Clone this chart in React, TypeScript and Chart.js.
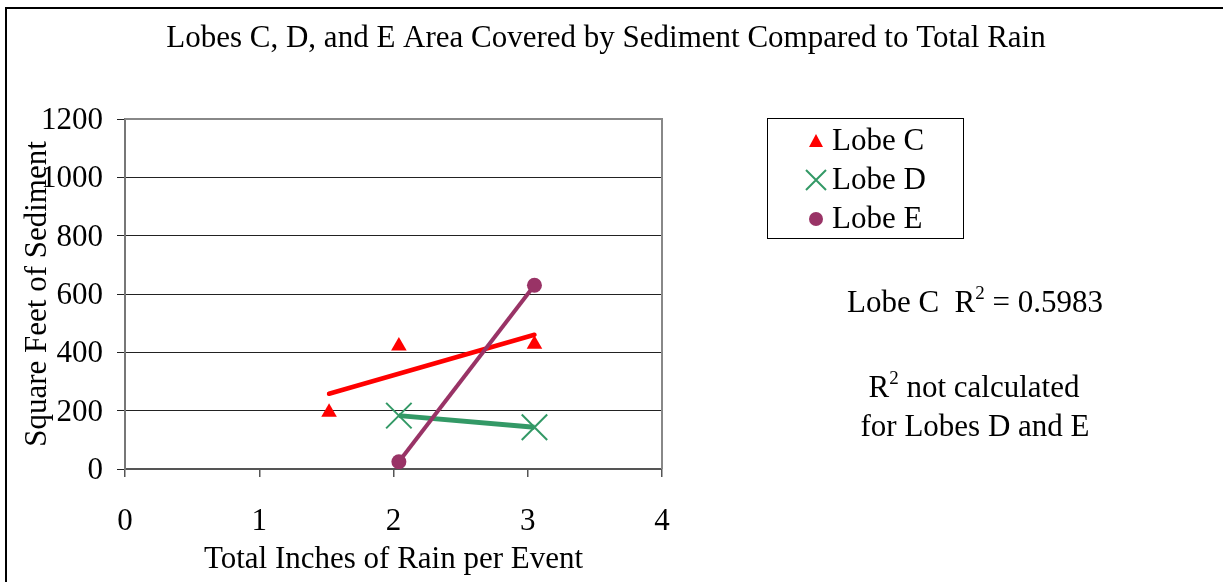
import React, { useEffect, useRef } from "react";
import { Chart, registerables } from "chart.js";

Chart.register(...registerables);

// Rain per event (inches) and sediment coverage (sq ft) for each lobe
const lobeCRain = [1.52, 2.04, 3.05];
const lobeCArea = [195, 422, 428];
const lobeDRain = [2.04, 3.05];
const lobeDArea = [183, 143];
const lobeERain = [2.04, 3.05];
const lobeEArea = [25, 630];

const xTicks = [0, 1, 2, 3, 4];
const yTicks = [0, 200, 400, 600, 800, 1000, 1200];

const seriesNames = ["Lobe C", "Lobe D", "Lobe E"];
const chartTitle = "Lobes C, D, and E Area Covered by Sediment Compared to Total Rain";
const xTitle = "Total Inches of Rain per Event";
const yTitle = "Square Feet of Sediment";
const rSquaredLabel = "0.5983";

const RED = "#FF0000";
const GREEN = "#339966";
const PURPLE = "#993366";
const SERIF = "'Liberation Serif', 'Times New Roman', serif";
const FONT_SIZE = 31;

// Least-squares line through Lobe C, drawn across its rain range
function linearFit(xs: number[], ys: number[]) {
  const n = xs.length;
  const mx = xs.reduce((a, b) => a + b, 0) / n;
  const my = ys.reduce((a, b) => a + b, 0) / n;
  let sxy = 0;
  let sxx = 0;
  for (let i = 0; i < n; i++) {
    sxy += (xs[i] - mx) * (ys[i] - my);
    sxx += (xs[i] - mx) * (xs[i] - mx);
  }
  const slope = sxy / sxx;
  const intercept = my - slope * mx;
  const x0 = Math.min(...xs);
  const x1 = Math.max(...xs);
  return [
    { x: x0, y: intercept + slope * x0 },
    { x: x1, y: intercept + slope * x1 },
  ];
}

const toPoints = (xs: number[], ys: number[]) => xs.map((x, i) => ({ x, y: ys[i] }));

function drawMarker(ctx: CanvasRenderingContext2D, kind: string, x: number, y: number) {
  ctx.save();
  if (kind === "triangle") {
    ctx.fillStyle = RED;
    ctx.beginPath();
    ctx.moveTo(x, y - 7);
    ctx.lineTo(x + 7, y + 6);
    ctx.lineTo(x - 7, y + 6);
    ctx.closePath();
    ctx.fill();
  } else if (kind === "cross") {
    ctx.strokeStyle = GREEN;
    ctx.lineWidth = 2;
    ctx.beginPath();
    ctx.moveTo(x - 10, y - 10);
    ctx.lineTo(x + 10, y + 10);
    ctx.moveTo(x + 10, y - 10);
    ctx.lineTo(x - 10, y + 10);
    ctx.stroke();
  } else {
    ctx.fillStyle = PURPLE;
    ctx.beginPath();
    ctx.arc(x, y, 7, 0, Math.PI * 2);
    ctx.fill();
  }
  ctx.restore();
}

function drawSup(ctx: CanvasRenderingContext2D, parts: [string, boolean][], cx: number, y: number, size: number) {
  const supSize = Math.round(size * 0.62);
  let total = 0;
  for (const [t, sup] of parts) {
    ctx.font = `${sup ? supSize : size}px ${SERIF}`;
    total += ctx.measureText(t).width;
  }
  let x = cx - total / 2;
  ctx.textAlign = "left";
  ctx.textBaseline = "alphabetic";
  for (const [t, sup] of parts) {
    ctx.font = `${sup ? supSize : size}px ${SERIF}`;
    ctx.fillText(t, x, sup ? y - size * 0.42 : y);
    x += ctx.measureText(t).width;
  }
}

const decorations = {
  id: "decorations",
  beforeDatasetsDraw(chart: any) {
    const { ctx, chartArea } = chart;
    ctx.save();
    // plot frame (top and right edges)
    ctx.strokeStyle = "#888888";
    ctx.lineWidth = 2;
    ctx.beginPath();
    ctx.moveTo(chartArea.left, chartArea.top);
    ctx.lineTo(chartArea.right, chartArea.top);
    ctx.lineTo(chartArea.right, chartArea.bottom);
    ctx.stroke();
    ctx.restore();
  },
  afterDraw(chart: any) {
    const { ctx } = chart;
    ctx.save();
    // outer chart border
    ctx.strokeStyle = "#000";
    ctx.lineWidth = 2;
    ctx.beginPath();
    ctx.moveTo(6, 582);
    ctx.lineTo(6, 8);
    ctx.lineTo(1223, 8);
    ctx.stroke();

    // title
    ctx.fillStyle = "#000";
    ctx.font = `${FONT_SIZE}px ${SERIF}`;
    ctx.textAlign = "center";
    ctx.textBaseline = "middle";
    ctx.fillText(chartTitle, 606, 39);

    // legend
    ctx.strokeStyle = "#000";
    ctx.lineWidth = 1;
    ctx.strokeRect(767.5, 118.5, 196, 120);
    const kinds = ["triangle", "cross", "circle"];
    ctx.font = `${FONT_SIZE}px ${SERIF}`;
    ctx.textAlign = "left";
    ctx.textBaseline = "middle";
    seriesNames.forEach((name, i) => {
      const y = 141 + i * 39;
      drawMarker(ctx, kinds[i], 816, y);
      ctx.fillStyle = "#000";
      ctx.fillText(name, 832, y + 1);
    });

    // R-squared notes
    ctx.fillStyle = "#000";
    drawSup(ctx, [["Lobe C  R", false], ["2", true], [" = " + rSquaredLabel, false]], 975, 312, FONT_SIZE);
    drawSup(ctx, [["R", false], ["2", true], [" not calculated", false]], 974, 397, FONT_SIZE);
    ctx.font = `${FONT_SIZE}px ${SERIF}`;
    ctx.textAlign = "center";
    ctx.textBaseline = "alphabetic";
    ctx.fillText("for Lobes D and E", 975, 436);
    ctx.restore();
  },
};

export default function App() {
  const canvasRef = useRef<HTMLCanvasElement | null>(null);

  useEffect(() => {
    document.body.style.margin = "0";
    const canvas = canvasRef.current;
    if (!canvas) return;
    const chart = new Chart(canvas, {
      type: "scatter",
      data: {
        datasets: [
          {
            label: seriesNames[0],
            data: toPoints(lobeCRain, lobeCArea),
            pointStyle: "triangle",
            pointRadius: 9,
            pointBackgroundColor: RED,
            pointBorderColor: RED,
            pointBorderWidth: 0,
            showLine: false,
            order: 0,
          },
          {
            label: seriesNames[0] + " trend",
            data: linearFit(lobeCRain, lobeCArea),
            showLine: true,
            borderColor: RED,
            borderWidth: 4.5,
            borderCapStyle: "round",
            pointRadius: 0,
            order: 5,
          },
          {
            label: seriesNames[1],
            data: toPoints(lobeDRain, lobeDArea),
            showLine: true,
            borderColor: GREEN,
            borderWidth: 5,
            pointStyle: "crossRot",
            pointRadius: 18,
            pointBorderColor: GREEN,
            pointBorderWidth: 2,
            pointBackgroundColor: GREEN,
            order: 4,
          },
          {
            label: seriesNames[2],
            data: toPoints(lobeERain, lobeEArea),
            showLine: true,
            borderColor: PURPLE,
            borderWidth: 4,
            pointStyle: "circle",
            pointRadius: 7.5,
            pointBorderWidth: 0,
            pointBackgroundColor: PURPLE,
            pointBorderColor: PURPLE,
            order: 3,
          },
        ],
      },
      options: {
        animation: false,
        responsive: true,
        maintainAspectRatio: false,
        layout: { padding: { top: 119, right: 561, left: 0, bottom: 0 } },
        plugins: {
          legend: { display: false },
          title: { display: false },
          tooltip: { enabled: false },
        },
        scales: {
          x: {
            type: "linear",
            min: xTicks[0],
            max: xTicks[xTicks.length - 1],
            afterBuildTicks: (s: any) => {
              s.ticks = xTicks.map((v) => ({ value: v }));
            },
            afterFit: (s: any) => {
              s.height = 113;
            },
            grid: {
              drawOnChartArea: false,
              drawTicks: true,
              tickLength: 8,
              color: "#555",
              lineWidth: 1.5,
            },
            border: { color: "#555", width: 2 },
            ticks: {
              color: "#000",
              padding: 26,
              font: { family: SERIF, size: FONT_SIZE },
              callback: (v: any) => String(v),
            },
            title: {
              display: true,
              text: xTitle,
              color: "#000",
              font: { family: SERIF, size: FONT_SIZE },
              padding: { top: 0, bottom: 4 },
            },
          },
          y: {
            type: "linear",
            min: yTicks[0],
            max: yTicks[yTicks.length - 1],
            afterBuildTicks: (s: any) => {
              s.ticks = yTicks.map((v) => ({ value: v }));
            },
            afterFit: (s: any) => {
              s.width = 125;
            },
            grid: {
              drawOnChartArea: true,
              drawTicks: true,
              tickLength: 8,
              color: "#222",
              lineWidth: 1,
            },
            border: { color: "#777", width: 2 },
            ticks: {
              color: "#000",
              padding: 14,
              labelOffset: 2,
              font: { family: SERIF, size: FONT_SIZE },
              callback: (v: any) => String(v),
            },
            title: {
              display: true,
              text: yTitle,
              color: "#000",
              font: { family: SERIF, size: FONT_SIZE },
              padding: { top: 19, bottom: 0 },
            },
          },
        },
      },
      plugins: [decorations],
    });
    return () => chart.destroy();
  }, []);

  return (
    <div style={{ position: "relative", width: 1223, height: 582 }}>
      <canvas ref={canvasRef} />
    </div>
  );
}
